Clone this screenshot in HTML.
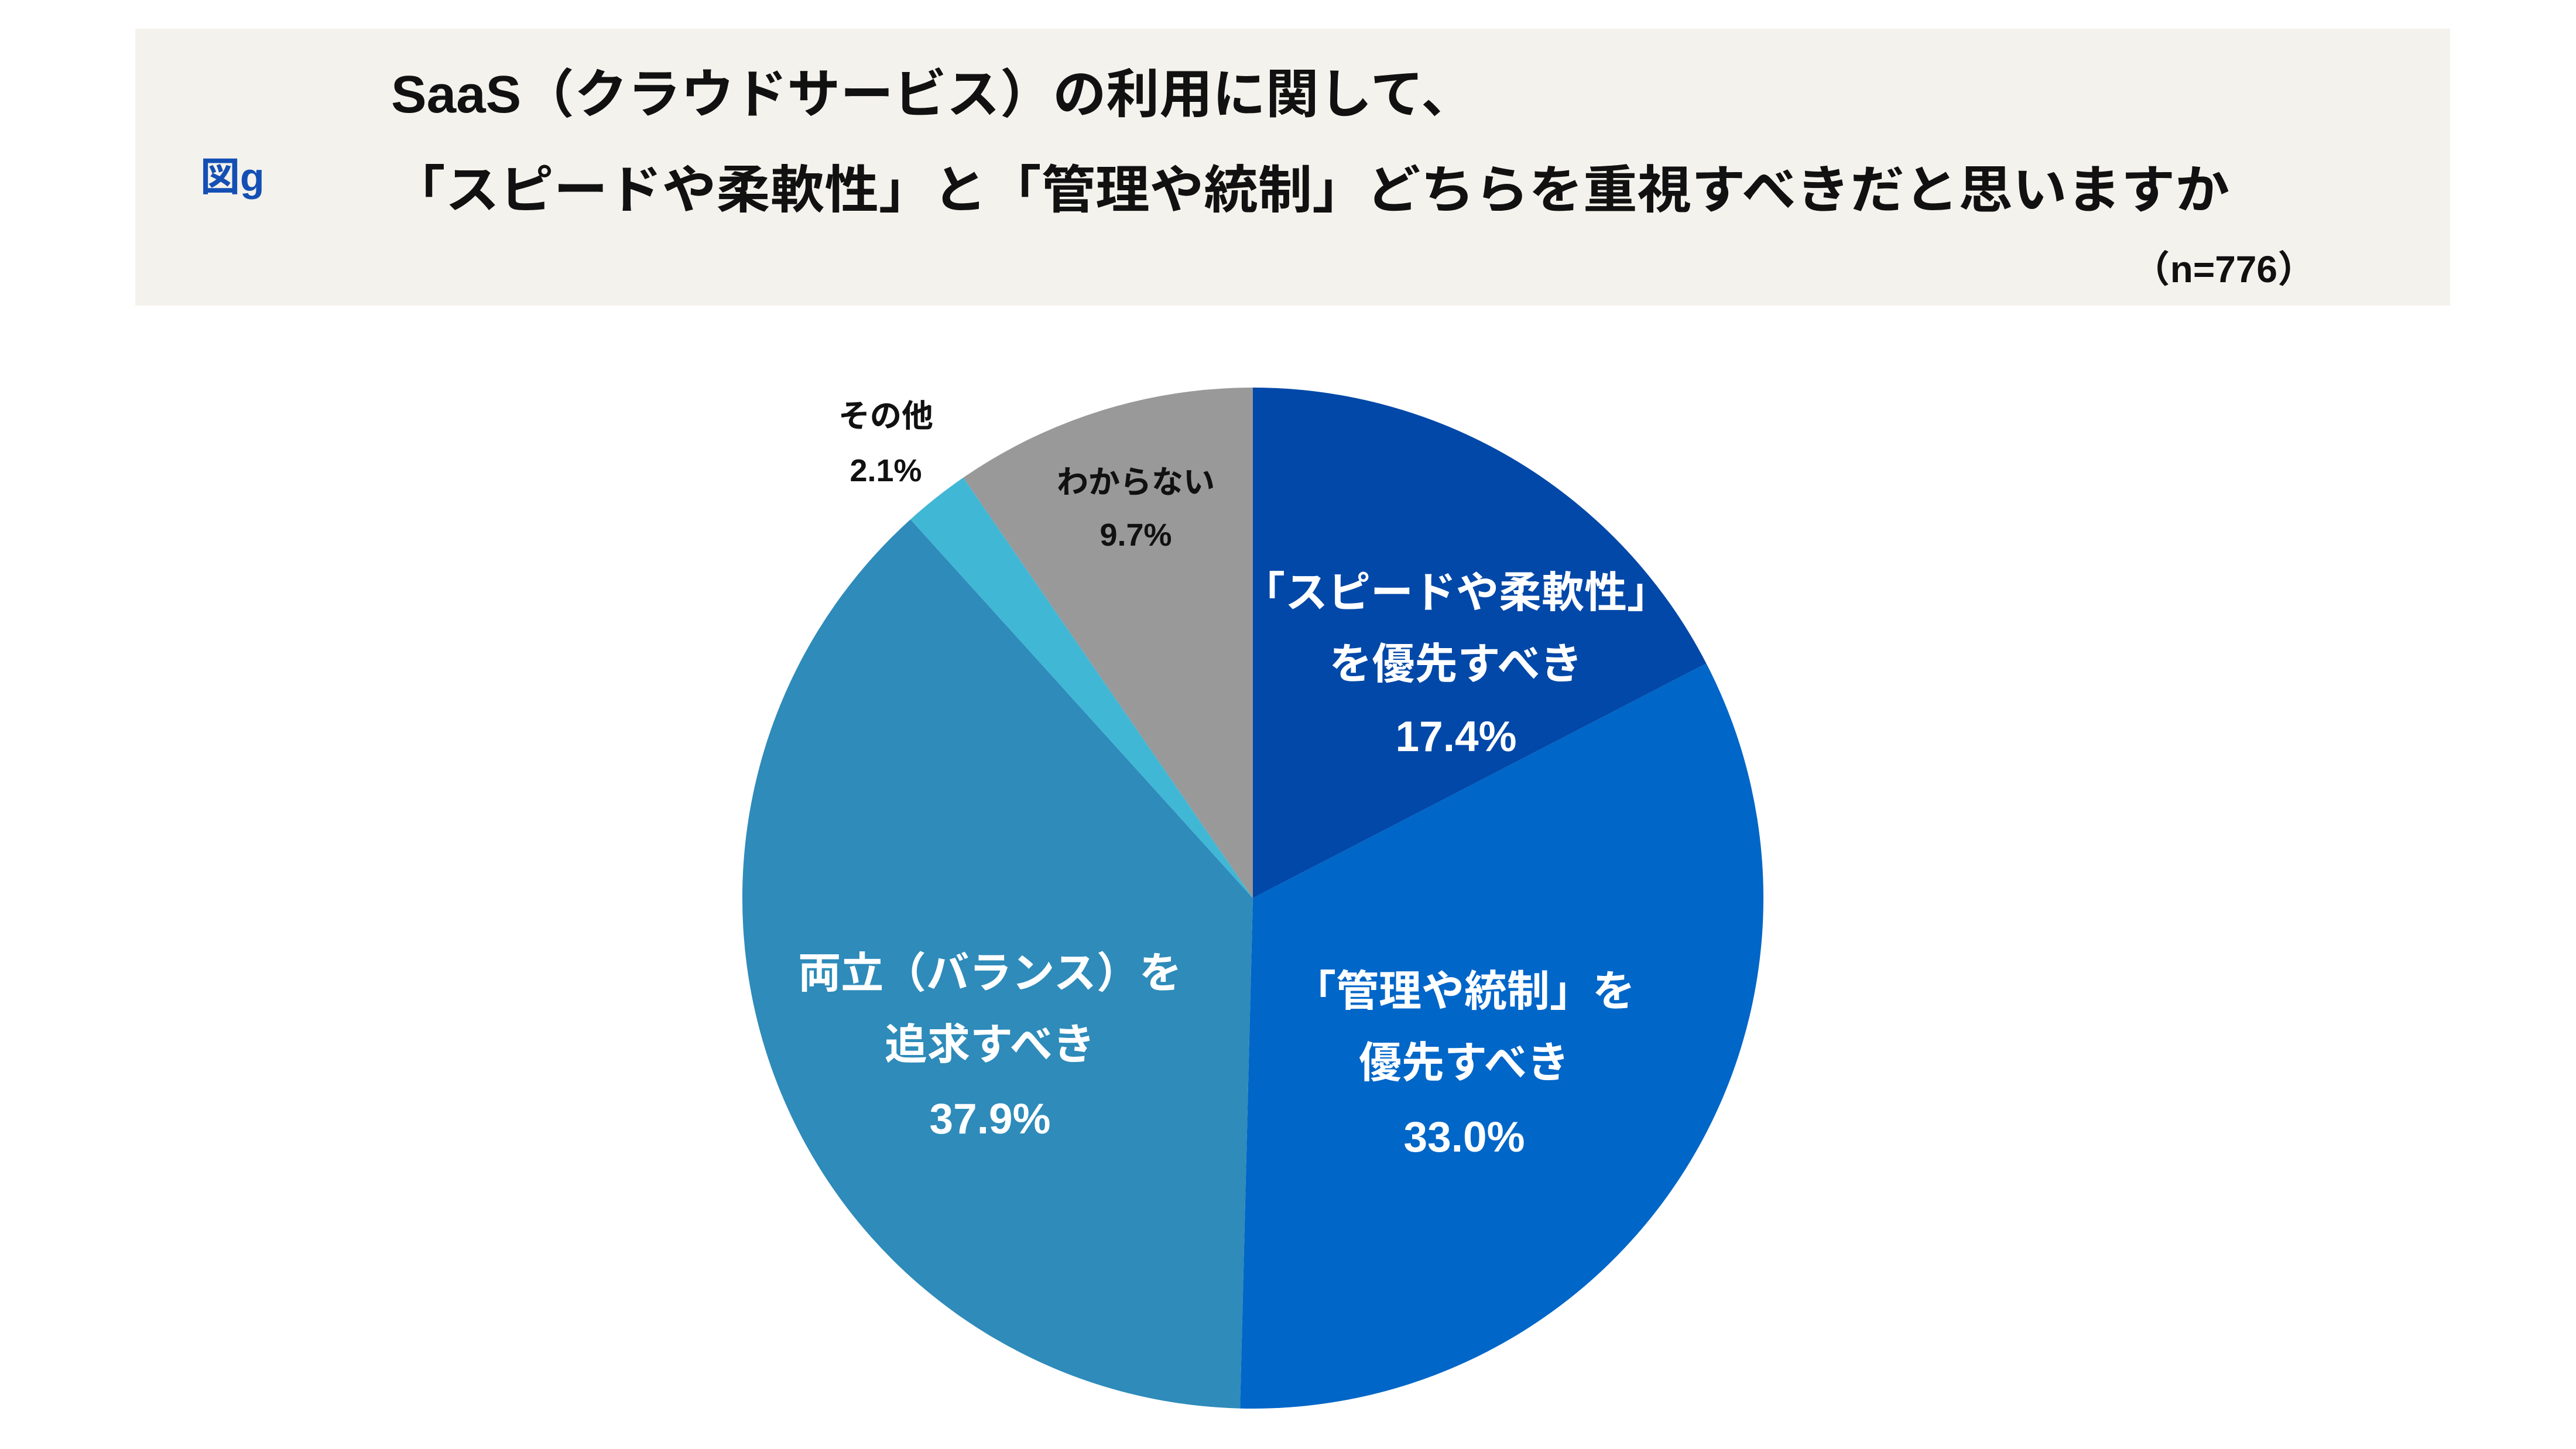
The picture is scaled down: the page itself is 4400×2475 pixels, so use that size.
<!DOCTYPE html>
<html><head><meta charset="utf-8"><style>
html,body{margin:0;padding:0;background:#fff}
svg{display:block}
text{font-family:"Liberation Sans","Noto Sans CJK JP",sans-serif;font-weight:bold}
</style></head><body>
<svg width="4400" height="2475" viewBox="0 0 4400 2475" xmlns="http://www.w3.org/2000/svg">
<rect x="231" y="49" width="3954" height="473" fill="#f4f2ec"/>
<text x="342" y="326" font-size="68" fill="#1450b4" font-family="Liberation Serif,Noto Serif CJK SC,serif">図g</text>
<text x="668" y="192" font-size="90" fill="#111" textLength="1850" lengthAdjust="spacingAndGlyphs">SaaS（クラウドサービス）の利用に関して、</text>
<text x="668" y="355" font-size="88" fill="#111" textLength="3140" lengthAdjust="spacingAndGlyphs">「スピードや柔軟性」と「管理や統制」どちらを重視すべきだと思いますか</text>
<text x="3954" y="482" font-size="64" fill="#111" text-anchor="end">（n=776）</text>
<path d="M2140,1534 L2140,662 A872,872 0 0 1 2914.5,1133.2 Z" fill="#0148a8"/>
<path d="M2140,1534 L2914.5,1133.2 A872,872 0 0 1 2118.1,2405.7 Z" fill="#0066c8"/>
<path d="M2140,1534 L2118.1,2405.7 A872,872 0 0 1 1555.1,887.2 Z" fill="#2e8bba"/>
<path d="M2140,1534 L1555.1,887.2 A872,872 0 0 1 1645.4,815.8 Z" fill="#41b7d6"/>
<path d="M2140,1534 L1645.4,815.8 A872,872 0 0 1 2140,662 Z" fill="#999999"/>
<g font-size="73" fill="#fff" text-anchor="middle">
<text x="2487" y="1037">「スピードや柔軟性」</text>
<text x="2487" y="1159">を優先すべき</text>
<text x="2487" y="1283">17.4%</text>
<text x="2501" y="1718">「管理や統制」を</text>
<text x="2501" y="1840">優先すべき</text>
<text x="2501" y="1967">33.0%</text>
<text x="1691" y="1687">両立（バランス）を</text>
<text x="1691" y="1809">追求すべき</text>
<text x="1691" y="1936">37.9%</text>
</g>
<g font-size="54" fill="#111" text-anchor="middle">
<text x="1940" y="842">わからない</text>
<text x="1940" y="932">9.7%</text>
<text x="1513" y="729">その他</text>
<text x="1513" y="822">2.1%</text>
</g>
</svg>
</body></html>
